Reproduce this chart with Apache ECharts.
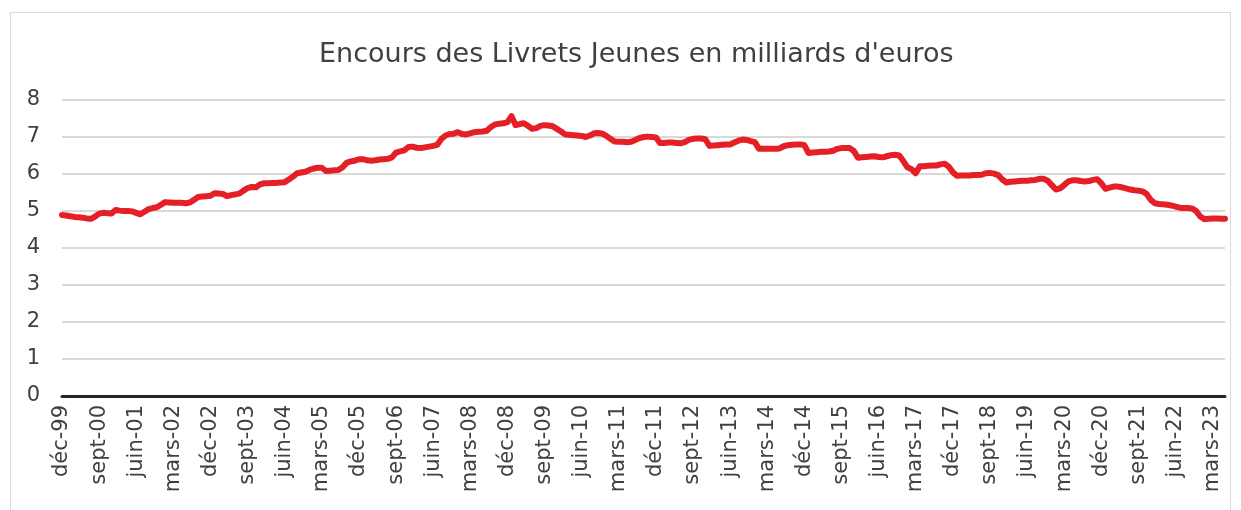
<!DOCTYPE html>
<html>
<head>
<meta charset="UTF-8">
<title>Encours des Livrets Jeunes</title>
<script src="https://cdn.jsdelivr.net/npm/echarts@6/dist/echarts.min.js"></script>
<style>
	html, body { margin: 0; padding: 0; background: #fff; }
	#frame { position: absolute; left: 10px; top: 12px; width: 1221px; height: 520px; border: 1px solid #d9d9d9; box-sizing: border-box; }
	#container { position: absolute; left: 0; top: 0; width: 1241px; height: 510px; }
</style>
</head>
<body>
<div id="frame"></div>
<div id="container"></div>
<script>
// mois (format Excel mmm-aa)
var moisNoms = ['janv', 'févr', 'mars', 'avr', 'mai', 'juin', 'juil', 'août', 'sept', 'oct', 'nov', 'déc'];
var debutAnnee = 1999, debutMois = 11; // déc-99

// encours mensuels, milliards d'euros (déc-99 -> juin-23)
var encours = [
	4.89,
	4.88, 4.86, 4.84, 4.83, 4.82, 4.80, 4.79, 4.85, 4.93, 4.95, 4.94, 4.93,   // 2000
	5.03, 5.01, 5.00, 5.00, 4.99, 4.95, 4.91, 4.98, 5.05, 5.08, 5.10, 5.17,   // 2001
	5.24, 5.23, 5.22, 5.22, 5.22, 5.21, 5.23, 5.30, 5.38, 5.39, 5.40, 5.41,   // 2002
	5.48, 5.47, 5.46, 5.40, 5.43, 5.45, 5.47, 5.55, 5.62, 5.65, 5.64, 5.72,   // 2003
	5.75, 5.75, 5.76, 5.76, 5.77, 5.78, 5.85, 5.93, 6.02, 6.04, 6.06, 6.11,   // 2004
	6.15, 6.17, 6.17, 6.08, 6.09, 6.10, 6.11, 6.18, 6.30, 6.34, 6.36, 6.40,   // 2005
	6.40, 6.37, 6.36, 6.37, 6.39, 6.40, 6.41, 6.45, 6.58, 6.61, 6.64, 6.73,   // 2006
	6.74, 6.71, 6.70, 6.72, 6.74, 6.76, 6.79, 6.95, 7.04, 7.08, 7.09, 7.13,   // 2007
	7.08, 7.07, 7.10, 7.13, 7.14, 7.15, 7.17, 7.27, 7.34, 7.36, 7.37, 7.40,   // 2008
	7.56, 7.32, 7.35, 7.37, 7.30, 7.22, 7.24, 7.30, 7.32, 7.31, 7.29, 7.22,   // 2009
	7.15, 7.07, 7.06, 7.05, 7.04, 7.03, 7.00, 7.04, 7.10, 7.11, 7.09, 7.03,   // 2010
	6.95, 6.88, 6.87, 6.87, 6.86, 6.87, 6.92, 6.97, 7.00, 7.01, 7.00, 6.99,   // 2011
	6.84, 6.84, 6.85, 6.85, 6.84, 6.83, 6.86, 6.92, 6.95, 6.96, 6.96, 6.94,   // 2012
	6.76, 6.77, 6.78, 6.79, 6.80, 6.80, 6.85, 6.90, 6.93, 6.92, 6.89, 6.86,   // 2013
	6.68, 6.68, 6.68, 6.68, 6.68, 6.69, 6.75, 6.78, 6.79, 6.80, 6.80, 6.78,   // 2014
	6.57, 6.58, 6.59, 6.60, 6.60, 6.61, 6.63, 6.68, 6.70, 6.70, 6.70, 6.62,   // 2015
	6.44, 6.45, 6.46, 6.47, 6.48, 6.46, 6.45, 6.48, 6.51, 6.52, 6.50, 6.35,   // 2016
	6.18, 6.13, 6.02, 6.21, 6.21, 6.22, 6.23, 6.23, 6.26, 6.28, 6.20, 6.05,   // 2017
	5.95, 5.96, 5.96, 5.96, 5.97, 5.97, 5.98, 6.02, 6.03, 6.01, 5.97, 5.85,   // 2018
	5.77, 5.79, 5.80, 5.81, 5.82, 5.82, 5.83, 5.84, 5.87, 5.87, 5.82, 5.70,   // 2019
	5.58, 5.61, 5.70, 5.80, 5.83, 5.83, 5.81, 5.80, 5.81, 5.84, 5.86, 5.75,   // 2020
	5.60, 5.63, 5.66, 5.66, 5.64, 5.61, 5.58, 5.56, 5.55, 5.53, 5.46, 5.30,   // 2021
	5.21, 5.19, 5.18, 5.17, 5.15, 5.12, 5.09, 5.08, 5.08, 5.07, 5.00, 4.85,   // 2022
	4.78, 4.79, 4.80, 4.80, 4.79, 4.79                                        // 2023
];

var yTicks = [0, 1, 2, 3, 4, 5, 6, 7, 8];

var mois = [];
for (var i = 0; i < encours.length; i++) {
	var m = (debutMois + i) % 12;
	var a = debutAnnee + Math.floor((debutMois + i) / 12);
	mois.push(moisNoms[m] + '-' + String(a % 100).padStart(2, '0'));
}

var dom = document.getElementById('container');
var myChart = echarts.init(dom);
var police = '"DejaVu Sans", sans-serif';

var option = {
	animation: false,
	title: {
		text: "Encours des Livrets Jeunes en milliards d'euros",
		left: 314,
		top: 36,
		textStyle: { fontFamily: police, fontSize: 27, fontWeight: 'normal', color: '#404040' }
	},
	grid: {
		left: 62,
		right: 16,
		top: 100,
		bottom: 114
	},
	xAxis: {
		type: 'category',
		data: mois,
		boundaryGap: false,
		axisTick: { show: false },
		axisLine: { lineStyle: { color: '#262626', width: 3 } },
		axisLabel: {
			interval: 8,
			rotate: 90,
			margin: 9,
			fontFamily: police,
			fontSize: 21,
			color: '#404040'
		}
	},
	yAxis: {
		type: 'value',
		min: yTicks[0],
		max: yTicks[yTicks.length - 1],
		interval: 1,
		axisLine: { show: false },
		axisTick: { show: false },
		axisLabel: { fontFamily: police, fontSize: 21, color: '#404040', margin: 22 },
		splitLine: { lineStyle: { color: '#d9d9d9', width: 2 } }
	},
	series: [{
		name: 'Encours',
		type: 'line',
		data: encours,
		showSymbol: false,
		lineStyle: { color: '#e41f26', width: 6, join: 'round', cap: 'round' },
		itemStyle: { color: '#e41f26' }
	}]
};

if (option && typeof option === 'object') {
	myChart.setOption(option, true);
}
</script>
</body>
</html>
